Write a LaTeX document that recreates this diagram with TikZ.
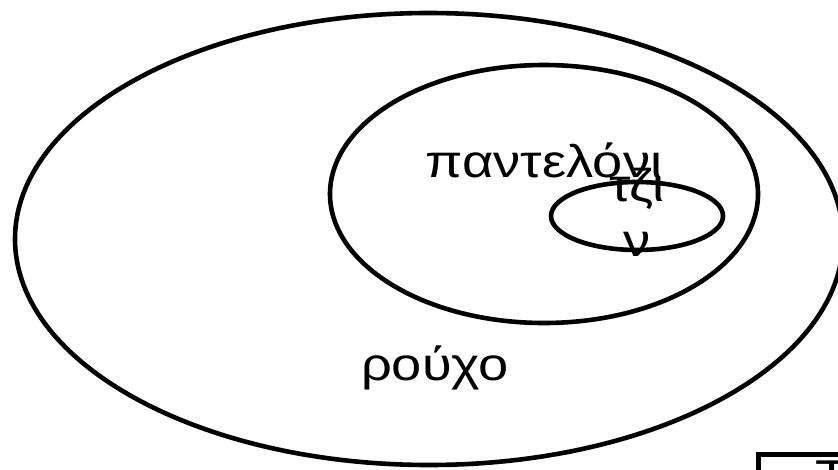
\documentclass[tikz,border=0pt]{standalone}
\usepackage{fontspec}
\setmainfont{Liberation Sans}[FakeStretch=1.18]
\usetikzlibrary{shapes.geometric}
\begin{document}
\begin{tikzpicture}[x=1pt,y=-1pt,
  set/.style={draw=black,line width=4.6pt,ellipse,inner sep=0pt},
  lbl/.style={font=\fontsize{46}{55}\selectfont,inner sep=0pt,align=center}]
\useasboundingbox (0,0) rectangle (838,469);
\node[set,minimum width=828pt,minimum height=452pt] (outer) at (429,239) {};
\node[set,minimum width=428pt,minimum height=258pt] (mid) at (544,194) {};
\node[set,minimum width=172pt,minimum height=68pt] (inner) at (637,216) {};
\node[lbl] (tpant) at (544,160) {παντελόνι};
\node[lbl] (tjean) at (637,212) {τζι\\ν};
\node[lbl] (trouxo) at (435,368) {ρούχο};
\node[draw=black,line width=4.6pt,anchor=north west,minimum width=200pt,minimum height=60pt] (box) at (756,452) {};
\node[lbl,anchor=north west] (tbox) at (815,461) {Τ};
\end{tikzpicture}
\end{document}
